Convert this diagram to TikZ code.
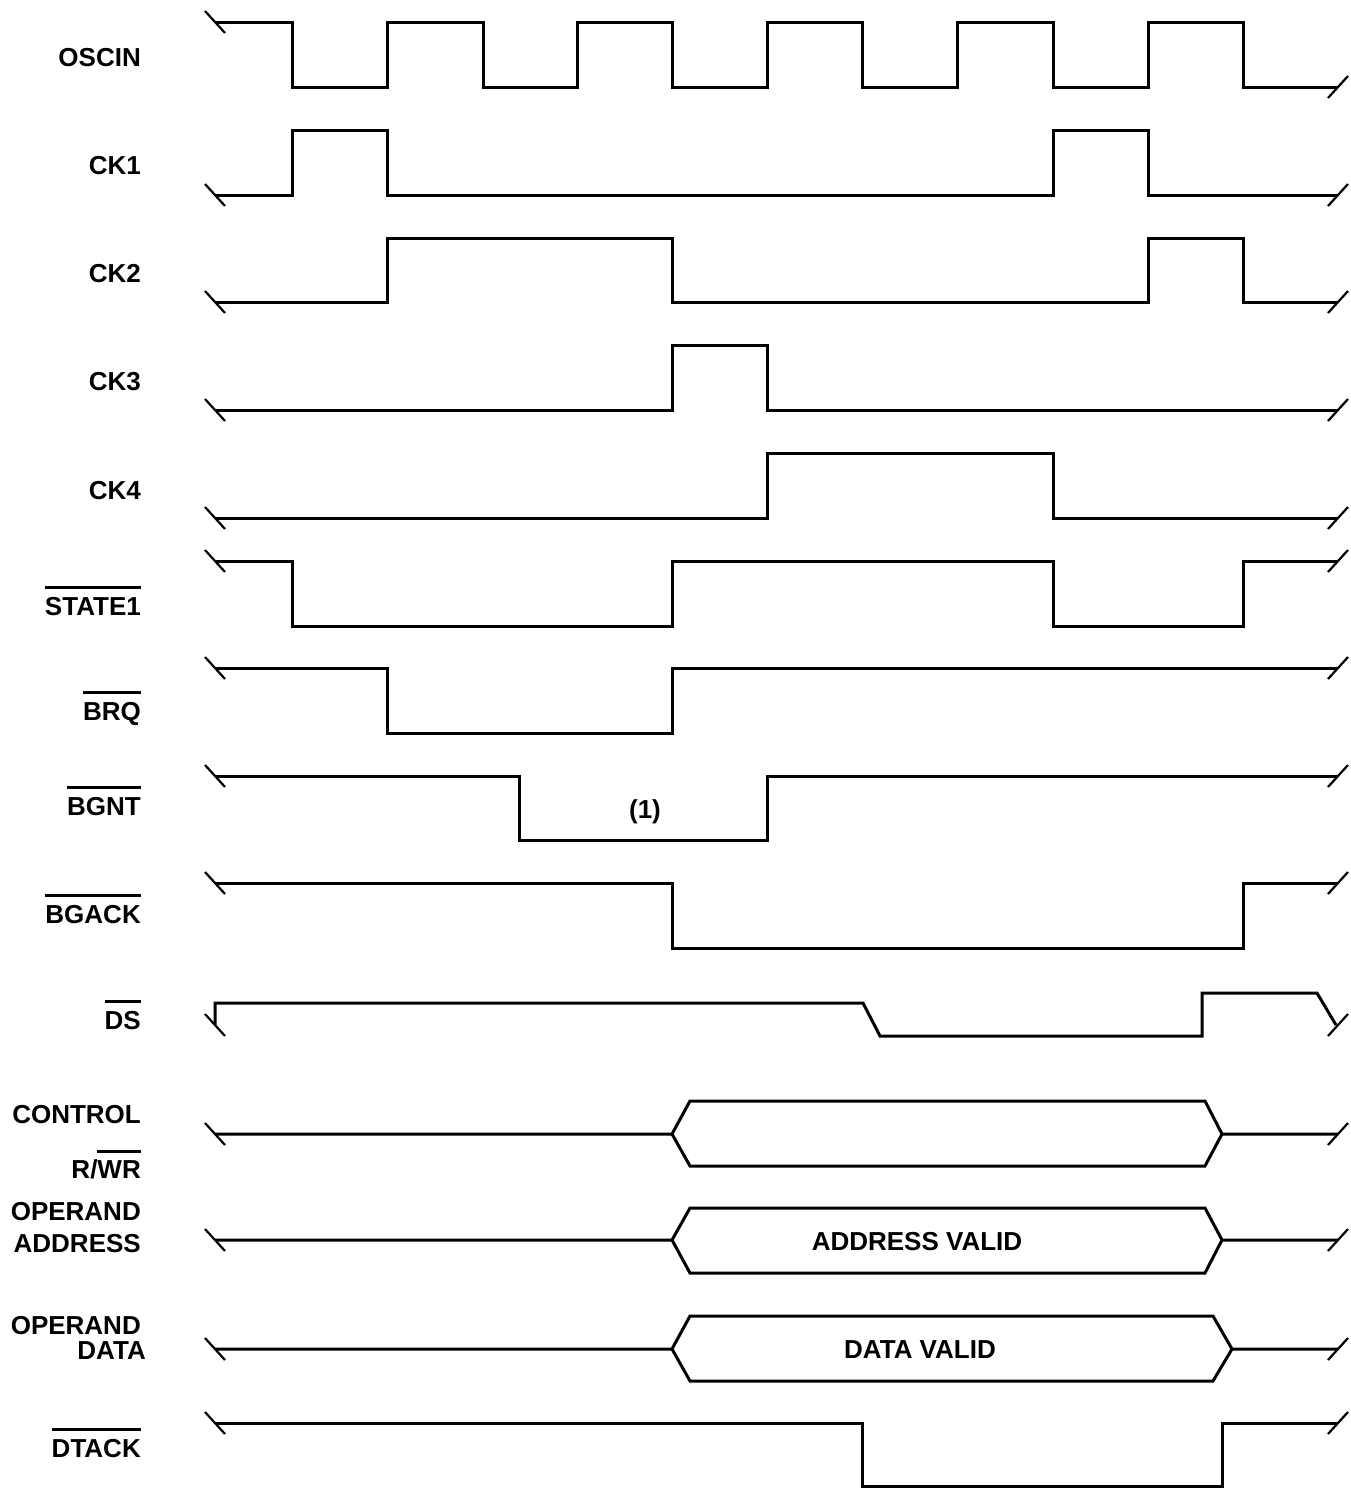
\documentclass[tikz,border=0pt]{standalone}
\usepackage{fontspec}
\setmainfont{Liberation Sans}
\newcommand\ovl[1]{\vbox{\hrule height 3pt\kern 7.5pt\hbox{#1}}}
\begin{document}
\begin{tikzpicture}[x=1pt,y=-1pt,
  sig/.style={line width=3pt,line join=miter,line cap=butt},
  tickline/.style={line width=2.2pt},
  ltick/.pic={\draw[tickline] (-10,-11) -- (10,11);},
  rtick/.pic={\draw[tickline] (-10,11) -- (10,-11);},
  lab/.style={font=\fontsize{26}{28}\selectfont\bfseries,inner sep=0pt,anchor=base east},
  txt/.style={font=\fontsize{26}{28}\selectfont\bfseries,inner sep=0pt}]
\useasboundingbox (0,0) rectangle (1351,1489);
% labels
\node[lab] (lOSCIN) at (141,66) {OSCIN};
\node[lab] (lCK1) at (141,174) {CK1};
\node[lab] (lCK2) at (141,282) {CK2};
\node[lab] (lCK3) at (141,390) {CK3};
\node[lab] (lCK4) at (141,499) {CK4};
\node[lab] (lSTATE) at (141,615) {\ovl{STATE1}};
\node[lab] (lBRQ) at (141,720) {\ovl{BRQ}};
\node[lab] (lBGNT) at (141,815) {\ovl{BGNT}};
\node[lab] (lBGACK) at (141,923) {\ovl{BGACK}};
\node[lab] (lDS) at (141,1029) {\ovl{DS}};
\node[lab] (lCTRL) at (141,1123) {CONTROL};
\node[lab] (lRW) at (141,1178) {R/\ovl{WR}};
\node[lab] (lOPA1) at (141,1220) {OPERAND};
\node[lab] (lOPA2) at (141,1252) {ADDRESS};
\node[lab] (lOPD1) at (141,1334) {OPERAND};
\node[lab] (lOPD2) at (146,1359) {DATA};
\node[lab] (lDTACK) at (141,1457) {\ovl{DTACK}};
% waveforms
\draw[sig] (215,22) -| (292,87) -| (387,22) -| (483,87) -| (577,22) -| (672,87) -| (767,22) -| (862,87) -| (957,22) -| (1053,87) -| (1148,22) -| (1243,87) -- (1338,87);
\draw[sig] (215,195) -| (292,130) -| (387,195) -| (1053,130) -| (1148,195) -- (1338,195);
\draw[sig] (215,302) -| (387,238) -| (672,302) -| (1148,238) -| (1243,302) -- (1338,302);
\draw[sig] (215,410) -| (672,345) -| (767,410) -- (1338,410);
\draw[sig] (215,518) -| (767,453) -| (1053,518) -- (1338,518);
\draw[sig] (215,561) -| (292,626) -| (672,561) -| (1053,626) -| (1243,561) -- (1338,561);
\draw[sig] (215,668) -| (387,733) -| (672,668) -- (1338,668);
\draw[sig] (215,776) -| (519,840) -| (767,776) -- (1338,776);
\draw[sig] (215,883) -| (672,948) -| (1243,883) -- (1338,883);
\draw[sig] (215,1025) -- (215,1003) -- (863,1003) -- (880,1036) -- (1202,1036) -- (1202,993) -- (1317,993) -- (1336,1025);
% buses
\draw[sig] (215,1134) -- (672,1134) -- (690,1101) -- (1205,1101) -- (1222,1134) -- (1338,1134);
\draw[sig] (672,1134) -- (690,1166) -- (1205,1166) -- (1222,1134);
\draw[sig] (215,1240) -- (672,1240) -- (690,1208) -- (1205,1208) -- (1222,1240) -- (1338,1240);
\draw[sig] (672,1240) -- (690,1273) -- (1205,1273) -- (1222,1240);
\draw[sig] (215,1349) -- (672,1349) -- (690,1316) -- (1213,1316) -- (1232,1349) -- (1338,1349);
\draw[sig] (672,1349) -- (690,1381) -- (1213,1381) -- (1232,1349);
\draw[sig] (215,1423) -| (862,1486) -| (1222,1423) -- (1338,1423);
% ticks
\foreach \y in {22,195,302,410,518,561,668,776,883,1025,1134,1240,1349,1423}
  \pic at (215,\y) {ltick};
\foreach \y in {87,195,302,410,518,561,668,776,883,1025,1134,1240,1349,1423}
  \pic at (1338,\y) {rtick};
% inner texts
\node[txt] (n1) at (645,812) {(1)};
\node[txt] (addr) at (917,1242) {ADDRESS VALID};
\node[txt] (data) at (920,1350) {DATA VALID};
\end{tikzpicture}
\end{document}
